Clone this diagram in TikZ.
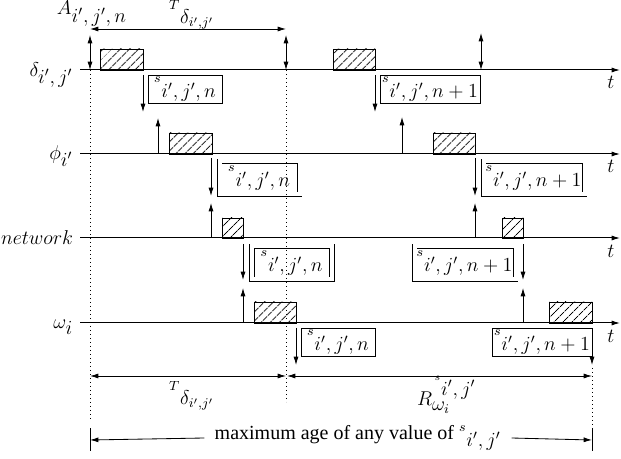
\documentclass[tikz,border=0pt]{standalone}
\usepackage{amsmath}
\usepackage[no-math]{fontspec}
\setmainfont{Liberation Serif}
\usetikzlibrary{arrows.meta,patterns.meta}
\newcommand{\lowsub}[2]{\ensuremath{{}^{#1}{}_{\textstyle #2}}}
\tikzset{
    timeline/.style={-{Latex[length=5pt,width=3pt]}, line width=0.6pt},
    signal/.style={-{Latex[length=5pt,width=3pt]}, line width=0.5pt},
    twoway/.style={{Latex[length=5pt,width=3pt]}-{Latex[length=5pt,width=3pt]}, line width=0.5pt},
    busy/.style={draw, line width=0.5pt, pattern={Lines[angle=45,distance=4pt]}},
    msg/.style={draw, line width=0.5pt, inner sep=1pt, minimum height=15.6pt, font=\large},
    msgcopy/.style={msg, double, double distance=2.4pt, minimum height=19.8pt},
    lbl/.style={font=\large},
}

\begin{document}
\begin{tikzpicture}[x=0.6pt, y=-0.6pt]
        \useasboundingbox (0, 0) rectangle (621, 459);

        \node[lbl, anchor=east] (delta) at (79, 75) {$\delta_{\textstyle i',j'}$};
        \node[lbl, anchor=east] (phi) at (79, 156) {$\phi_{\textstyle i'}$};
        \node[lbl, anchor=east] (net) at (79, 238) {$network$};
        \node[lbl, anchor=east] (omega) at (79, 327) {$\omega_{\textstyle i}$};
        \node[coordinate] (d0) at (80, 70) {};
        \node[coordinate] (d1) at (620, 70) {};
        \node[coordinate] (p0) at (80, 154) {};
        \node[coordinate] (p1) at (620, 154) {};
        \node[coordinate] (n0) at (80, 238) {};
        \node[coordinate] (n1) at (620, 238) {};
        \node[coordinate] (w0) at (80, 323) {};
        \node[coordinate] (w1) at (620, 323) {};
        \draw[timeline] (d0) -- (d1);
        \draw[timeline] (p0) -- (p1);
        \draw[timeline] (n0) -- (n1);
        \draw[timeline] (w0) -- (w1);
        \node[lbl] (td) at (611, 82) {$t$};
        \node[lbl] (tp) at (611, 166) {$t$};
        \node[lbl] (tn) at (611, 251) {$t$};
        \node[lbl] (tw) at (611, 336) {$t$};

        \node[lbl, inner sep=0pt] (age) at (92, 14) {$A_{\textstyle i',j',n}$};
        \node[lbl, inner sep=0pt] (period) at (192, 15) {\lowsub{T}{\delta_{i',j'}}};
        \node[coordinate] (h0) at (90, 29) {};
        \node[coordinate] (h1) at (286, 29) {};
        \draw[twoway] (h0) -- (h1);
        \node[coordinate] (a0) at (90, 35) {};
        \node[coordinate] (a1) at (90, 70) {};
        \node[coordinate] (b0) at (286, 35) {};
        \node[coordinate] (b1) at (286, 70) {};
        \node[coordinate] (c0) at (481, 33) {};
        \node[coordinate] (c1) at (481, 70) {};
        \draw[twoway] (a0) -- (a1);
        \draw[twoway] (b0) -- (b1);
        \draw[twoway] (c0) -- (c1);

        \draw[busy] (100, 49) rectangle (143, 70);
        \draw[busy] (169, 133) rectangle (212, 154);
        \draw[busy] (222, 218) rectangle (243, 238);
        \draw[busy] (254, 302) rectangle (296, 323);
        \draw[busy] (333, 49) rectangle (375, 70);
        \draw[busy] (433, 133) rectangle (475, 154);
        \draw[busy] (502, 218) rectangle (523, 238);
        \draw[busy] (549, 302) rectangle (592, 323);

        \node[coordinate] (ds1a) at (143, 75) {};
        \node[coordinate] (ds1b) at (143, 112) {};
        \node[coordinate] (pr1a) at (158, 118) {};
        \node[coordinate] (pr1b) at (158, 154) {};
        \node[coordinate] (ps1a) at (211, 158) {};
        \node[coordinate] (ps1b) at (211, 196) {};
        \node[coordinate] (nr1a) at (211, 203) {};
        \node[coordinate] (nr1b) at (211, 238) {};
        \node[coordinate] (ns1a) at (243, 244) {};
        \node[coordinate] (ns1b) at (243, 280) {};
        \node[coordinate] (wr1a) at (243, 288) {};
        \node[coordinate] (wr1b) at (243, 323) {};
        \node[coordinate] (ws1a) at (296, 328) {};
        \node[coordinate] (ws1b) at (296, 365) {};
        \draw[signal] (ds1a) -- (ds1b);
        \draw[signal] (pr1b) -- (pr1a);
        \draw[signal] (ps1a) -- (ps1b);
        \draw[signal] (nr1b) -- (nr1a);
        \draw[signal] (ns1a) -- (ns1b);
        \draw[signal] (wr1b) -- (wr1a);
        \draw[signal] (ws1a) -- (ws1b);

        \node[coordinate] (ds2a) at (375, 75) {};
        \node[coordinate] (ds2b) at (375, 112) {};
        \node[coordinate] (pr2a) at (402, 117) {};
        \node[coordinate] (pr2b) at (402, 154) {};
        \node[coordinate] (ps2a) at (475, 158) {};
        \node[coordinate] (ps2b) at (475, 196) {};
        \node[coordinate] (nr2a) at (475, 203) {};
        \node[coordinate] (nr2b) at (475, 238) {};
        \node[coordinate] (ns2a) at (523, 244) {};
        \node[coordinate] (ns2b) at (523, 280) {};
        \node[coordinate] (wr2a) at (523, 288) {};
        \node[coordinate] (wr2b) at (523, 323) {};
        \node[coordinate] (ws2a) at (592, 328) {};
        \node[coordinate] (ws2b) at (592, 365) {};
        \draw[signal] (ds2a) -- (ds2b);
        \draw[signal] (pr2b) -- (pr2a);
        \draw[signal] (ps2a) -- (ps2b);
        \draw[signal] (nr2b) -- (nr2a);
        \draw[signal] (ns2a) -- (ns2b);
        \draw[signal] (wr2b) -- (wr2a);
        \draw[signal] (ws2a) -- (ws2b);

        \node[msg, minimum width=44.4pt, anchor=north west] (dmsg1) at (148, 75) {\lowsub{s}{i',j',n}};
        \node[msgcopy, minimum width=48pt] (pmsg1) at (259.5, 178) {\lowsub{s}{i',j',n}};
        \node[msgcopy, minimum width=48pt] (nmsg1) at (292, 263) {\lowsub{s}{i',j',n}};
        \node[msg, minimum width=44.4pt, anchor=north west] (wmsg1) at (301, 328) {\lowsub{s}{i',j',n}};
        \node[msg, minimum width=57pt, anchor=north west] (dmsg2) at (380, 75) {\lowsub{s}{i',j',n+1}};
        \node[msgcopy, minimum width=60.6pt] (pmsg2) at (534, 178) {\lowsub{s}{i',j',n+1}};
        \node[msgcopy, minimum width=60.6pt] (nmsg2) at (465, 263) {\lowsub{s}{i',j',n+1}};
        \node[msg, minimum width=57pt, anchor=north west] (wmsg2) at (492, 328) {\lowsub{s}{i',j',n+1}};

        \node[coordinate] (a2) at (90, 420) {};
        \node[coordinate] (b2) at (286, 402) {};
        \node[coordinate] (e0) at (592, 368) {};
        \node[coordinate] (e1) at (592, 428) {};
        \draw[dotted] (a1) -- (a2);
        \draw[dotted] (b1) -- (b2);
        \draw[dotted] (e0) -- (e1);
        \node[coordinate] (m0) at (90, 376) {};
        \node[coordinate] (m1) at (286, 376) {};
        \node[coordinate] (m2) at (287, 376) {};
        \node[coordinate] (m3) at (592, 376) {};
        \draw[twoway] (m0) -- (m1);
        \draw[twoway] (m2) -- (m3);
        \node[lbl] (tlow) at (192, 396) {\lowsub{T}{\delta_{i',j'}}};
        \node[lbl] (resp) at (447, 395) {$R^{\,{}^{s}{}_{\textstyle i',j'}}_{\textstyle\omega_{i}}$};

        \node[coordinate] (l0) at (90, 428) {};
        \node[coordinate] (l1) at (90, 451) {};
        \node[coordinate] (r0) at (592, 428) {};
        \node[coordinate] (r1) at (592, 451) {};
        \node[coordinate] (lm) at (90, 440) {};
        \node[coordinate] (rm) at (592, 440) {};
        \draw[line width=0.5pt] (l0) -- (l1);
        \draw[line width=0.5pt] (r0) -- (r1);
        \node[inner sep=6pt, font=\large] (maxage) at (358, 438) {maximum age of any value of \lowsub{s}{i',j'}};
        \draw[signal] (maxage.west) -- (lm);
        \draw[signal] (maxage.east) -- (rm);
    \end{tikzpicture}
\end{document}
